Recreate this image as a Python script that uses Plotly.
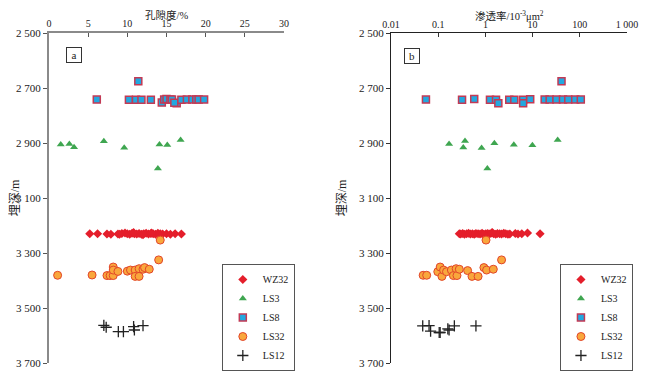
import plotly.graph_objects as go

# ---------------- data ----------------
# Porosity (%) vs depth (m)
wz32_por = [5.2, 6.2, 7.4, 7.9, 8.8, 9.3, 9.7, 10.0, 10.3, 10.6, 10.9, 11.2, 11.5, 11.8, 12.1,
            12.4, 12.7, 13.0, 13.3, 13.6, 13.9, 14.2, 14.5, 15.0, 15.5, 16.1, 16.9, 9.0, 10.8, 12.0, 13.1]
wz32_por_d = [3230, 3230, 3231, 3232, 3231, 3229, 3227, 3230, 3232, 3228, 3230, 3231, 3229, 3232, 3230,
              3228, 3231, 3229, 3230, 3232, 3228, 3230, 3231, 3230, 3232, 3230, 3231, 3232, 3226, 3233, 3227]
ls3_por = [1.5, 2.6, 3.2, 7.0, 9.6, 13.9, 14.1, 15.1, 16.8]
ls3_por_d = [2905, 2904, 2915, 2894, 2917, 2993, 2905, 2907, 2889]
ls8_por = [11.4, 6.1, 10.2, 11.1, 11.8, 13.0, 14.4, 14.7, 15.0, 15.5, 15.7, 16.3, 16.0, 16.9,
           17.6, 18.3, 18.8, 19.1, 19.8]
ls8_por_d = [2675, 2742, 2743, 2743, 2743, 2743, 2753, 2742, 2740, 2742, 2742, 2755, 2754, 2743,
             2742, 2742, 2742, 2742, 2742]
ls32_por = [1.1, 5.5, 7.4, 7.8, 8.2, 8.2, 8.2, 8.8, 10.0, 10.4, 11.0, 11.0, 11.5, 11.5, 12.0,
            12.2, 12.8, 14.0, 14.2]
ls32_por_d = [3381, 3380, 3382, 3382, 3382, 3351, 3362, 3367, 3366, 3362, 3362, 3385, 3385, 3357, 3359,
              3353, 3359, 3325, 3253]
ls12_por = [7.0, 7.3, 8.85, 9.5, 10.8, 10.9, 12.0]
ls12_por_d = [3563, 3570, 3586, 3586, 3568, 3580, 3564]

# Permeability (10^-3 um^2) vs depth (m)
wz32_perm = [0.28, 0.30, 0.33, 0.36, 0.40, 0.44, 0.48, 0.53, 0.58, 0.63, 0.70, 0.77, 0.85, 0.93, 1.02,
             1.12, 1.23, 1.35, 1.5, 1.65, 1.8, 2.0, 2.2, 2.45, 2.7, 3.0, 3.3, 4.3, 4.9, 5.9, 7.8, 14.4, 0.9, 1.4]
wz32_perm_d = [3230, 3231, 3229, 3232, 3230, 3228, 3231, 3230, 3232, 3229, 3230, 3231, 3228, 3232, 3230,
               3229, 3231, 3227, 3230, 3232, 3229, 3230, 3231, 3228, 3230, 3232, 3231, 3229, 3231, 3230, 3227, 3230, 3233, 3226]
ls3_perm = [0.17, 0.34, 0.37, 0.83, 1.1, 1.55, 4.0, 9.9, 34]
ls3_perm_d = [2904, 2916, 2893, 2918, 2993, 2901, 2906, 2908, 2889]
ls8_perm = [0.055, 0.32, 0.58, 1.25, 1.68, 1.88, 3.2, 4.1, 6.3, 6.3, 8.9, 18, 23, 32, 41, 44, 57, 80, 105]
ls8_perm_d = [2742, 2743, 2740, 2743, 2743, 2755, 2743, 2743, 2743, 2755, 2741, 2742, 2742, 2742, 2675,
              2742, 2742, 2742, 2742]
ls32_perm = [0.048, 0.057, 0.098, 0.11, 0.12, 0.13, 0.15, 0.19, 0.21, 0.24, 0.25, 0.28, 0.42, 0.52,
             0.70, 0.93, 1.06, 1.03, 1.47, 2.2]
ls32_perm_d = [3381, 3381, 3368, 3351, 3385, 3362, 3368, 3362, 3382, 3357, 3382, 3359, 3364, 3385,
               3385, 3353, 3362, 3253, 3359, 3325]
ls12_perm = [0.047, 0.064, 0.069, 0.105, 0.11, 0.16, 0.17, 0.22, 0.63]
ls12_perm_d = [3565, 3564, 3584, 3589, 3589, 3576, 3580, 3565, 3565]

depth_ticks = [2500, 2700, 2900, 3100, 3300, 3500, 3700]
depth_text = ["2 500", "2 700", "2 900", "3 100", "3 300", "3 500", "3 700"]
por_ticks = [0, 5, 10, 15, 20, 25, 30]
perm_ticks = [0.01, 0.1, 1, 10, 100, 1000]
perm_text = ["0.01", "0.1", "1", "10", "100", "1 000"]
por_title = "孔隙度/%"
perm_title = "渗透率/10<sup>-3</sup>μm<sup>2</sup>"
depth_title = "埋深/m"

# ---------------- styles ----------------
FONT = "Liberation Serif, Times New Roman, Noto Sans CJK SC, serif"
styles = {
    "WZ32": dict(symbol="diamond", size=7, color="#e41e2b", line=dict(width=0)),
    "LS3": dict(symbol="triangle-up", size=7, color="#3fa650", line=dict(width=0)),
    "LS8": dict(symbol="square", size=7, color="#22a8e0", line=dict(width=1.5, color="#c23a55")),
    "LS32": dict(symbol="circle", size=8, color="#f9a73c", line=dict(width=1, color="#e2452a")),
    "LS12": dict(symbol="cross-thin", size=8, color="#222222", line=dict(width=1.3, color="#222222")),
}

fig = go.Figure()
left = [("WZ32", wz32_por, wz32_por_d), ("LS3", ls3_por, ls3_por_d), ("LS8", ls8_por, ls8_por_d),
        ("LS32", ls32_por, ls32_por_d), ("LS12", ls12_por, ls12_por_d)]
right = [("WZ32", wz32_perm, wz32_perm_d), ("LS3", ls3_perm, ls3_perm_d), ("LS8", ls8_perm, ls8_perm_d),
         ("LS32", ls32_perm, ls32_perm_d), ("LS12", ls12_perm, ls12_perm_d)]

for name, xs, ys in left:
    fig.add_trace(go.Scatter(x=xs, y=ys, mode="markers", name=name, marker=styles[name],
                             xaxis="x", yaxis="y", legend="legend"))
for name, xs, ys in right:
    fig.add_trace(go.Scatter(x=xs, y=ys, mode="markers", name=name, marker=styles[name],
                             xaxis="x2", yaxis="y2", legend="legend2"))

tickfont = dict(family=FONT, size=11, color="#222")
xtickfont = dict(family=FONT, size=10, color="#222")
titlefont = dict(family=FONT, size=10.5, color="#222")

common_y = dict(range=[3700, 2500], tickvals=depth_ticks, ticktext=depth_text, ticks="outside",
                ticklen=4, showgrid=False, zeroline=False, showline=True, tickfont=tickfont,
                automargin=False, title=dict(text=depth_title, font=dict(family=FONT, size=12, color="#222"),
                                             standoff=9))

legend_common = dict(y=0.30, xanchor="left", yanchor="top", bordercolor="#555",
                     borderwidth=1, bgcolor="white", font=dict(family=FONT, size=10, color="#222"),
                     itemwidth=30, tracegroupgap=0, itemsizing="trace")

panel_box = dict(font=dict(family=FONT, size=11, color="#222"), bordercolor="#333", borderwidth=1,
                 borderpad=2, width=10, height=10, bgcolor="white", showarrow=False)
title_ann = dict(yref="paper", y=1.0758, yanchor="top", showarrow=False, font=titlefont, borderpad=0)

# page body has an 8px default margin, so the figure is 8px smaller than the window
fig.update_layout(
    width=651, height=374,
    margin=dict(l=41, r=32, t=25, b=19, autoexpand=False),
    paper_bgcolor="white", plot_bgcolor="white",
    font=dict(family=FONT, size=11, color="#222"),
    xaxis=dict(domain=[0, 0.4066], range=[0, 30], side="top", tickvals=por_ticks, ticks="inside",
               ticklen=4, showgrid=False, zeroline=False, showline=True, linecolor="#8a8a8a",
               linewidth=2, tickcolor="#555", tickfont=xtickfont, automargin=False, anchor="y"),
    yaxis=dict(domain=[0, 1], anchor="x", linecolor="#8a8a8a", linewidth=2, tickcolor="#555",
               **common_y),
    xaxis2=dict(domain=[0.5917, 1], type="log", range=[-2, 3], side="top", tickvals=perm_ticks,
                ticktext=perm_text, ticks="inside", ticklen=4, showgrid=False, zeroline=False,
                showline=True, linecolor="#222", linewidth=1, tickcolor="#333", tickfont=xtickfont,
                automargin=False, anchor="y2"),
    yaxis2=dict(domain=[0, 1], anchor="x2", linecolor="#222", linewidth=1, tickcolor="#333",
                **common_y),
    legend=dict(x=0.299, **legend_common),
    legend2=dict(x=0.884, **legend_common),
    annotations=[
        dict(text=por_title, xref="x domain", x=0.5, **title_ann),
        dict(text=perm_title, xref="x2 domain", x=0.5, **title_ann),
        dict(text="a", xref="x domain", yref="y domain", x=0.072, y=0.959, **panel_box),
        dict(text="b", xref="x2 domain", yref="y2 domain", x=0.057, y=0.955, **panel_box),
    ],
)

fig.write_html("out.html")
